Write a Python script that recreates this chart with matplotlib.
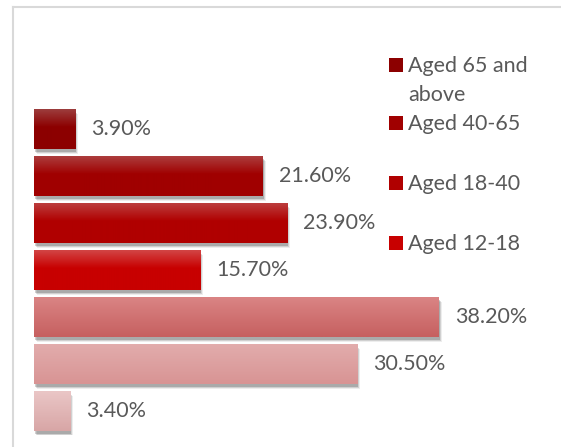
import numpy as np
import matplotlib
matplotlib.use("Agg")
import matplotlib.pyplot as plt
import matplotlib.transforms as mtrans
from matplotlib.lines import Line2D
from matplotlib.patches import Rectangle

# data (top to bottom); last three groups are cut off from the legend in the source
groups = ["Aged 65 and\nabove", "Aged 40-65", "Aged 18-40", "Aged 12-18",
          "Aged 6-12", "Aged 3-6", "Under 3"]
values = [3.9, 21.6, 23.9, 15.7, 38.2, 30.5, 3.4]
legend_shown = 4

# (top colour, base colour) of each bar's gradient
top_cols = ["#9c3c3c", "#ac3c3c", "#bc3c3c", "#d24444", "#da8484", "#e2acac", "#eac6c6"]
base_cols = ["#8c0000", "#a00000", "#b00000", "#c80000", "#c66060", "#d89494", "#d8a6a6"]

W, H = 561, 447
fig = plt.figure(figsize=(W / 100, H / 100), dpi=100)
fig.patch.set_facecolor("white")

# chart area frame (cut by the screenshot on the right and bottom)
fig.add_artist(Line2D([13 / W, 13 / W], [0, 1 - 7 / H], transform=fig.transFigure,
                      color="#d9d9d9", lw=1.5))
fig.add_artist(Line2D([13 / W, 1], [1 - 7 / H, 1 - 7 / H], transform=fig.transFigure,
                      color="#d9d9d9", lw=1.5))

ax = fig.add_axes([34 / W, 1 - 434.5 / H, (W - 34) / W, 329 / H])
ax.set_axis_off()

pos = np.arange(len(values))
h = 0.85

def hex2rgb(c):
    return np.array(matplotlib.colors.to_rgb(c))

# soft shadow below each bar
for dx, dy, a in [(1, -3, 0.18), (2, -4, 0.12), (3, -5, 0.07)]:
    tr = mtrans.offset_copy(ax.transData, fig=fig, x=dx, y=dy, units="dots")
    ax.barh(pos, values, height=h, color="black", alpha=a, transform=tr,
            zorder=1, linewidth=0)

bars = ax.barh(pos, values, height=h, color=base_cols, zorder=2, linewidth=0)

# gradient fill clipped to each bar
for i, b in enumerate(bars):
    t, c = hex2rgb(top_cols[i]), hex2rgb(base_cols[i])
    n = 40
    f = np.linspace(0, 1, n)
    if i < 4:
        f = np.clip(f / 0.45, 0, 1)
    grad = (t[None, :] * (1 - f[:, None]) + c[None, :] * f[:, None])[:, None, :]
    im = ax.imshow(grad, extent=[0, values[i], pos[i] + h / 2, pos[i] - h / 2],
                   aspect="auto", origin="upper", zorder=3)
    im.set_clip_path(b)

ax.set_xlim(0, (W - 34) / 10.6)
ax.set_ylim(len(values) - 0.5, -0.5)

font = "Lato"
fs = 15.5
for i, v in enumerate(values):
    ax.annotate(f"{v:.2f}%", (v, pos[i]), xytext=(16, 0), textcoords="offset pixels",
                va="center", ha="left", fontsize=fs, color="#595959", family=font,
                zorder=4)

# legend, as laid out in the source (centre of the first line of each entry)
leg_y = [65, 123, 183, 243]
for i in range(legend_shown):
    y = leg_y[i]
    sq = Rectangle((389 / W, 1 - (y + 7) / H), 14 / W, 14 / H, transform=fig.transFigure,
                   facecolor=base_cols[i], edgecolor="none")
    fig.add_artist(sq)
    for j, line in enumerate(groups[i].split("\n")):
        fig.text(408 / W, 1 - (y + 28 * j + 7.5) / H, line, va="baseline",
                 ha="left", fontsize=fs, color="#595959", family=font)

fig.savefig("out.png", dpi=100)
